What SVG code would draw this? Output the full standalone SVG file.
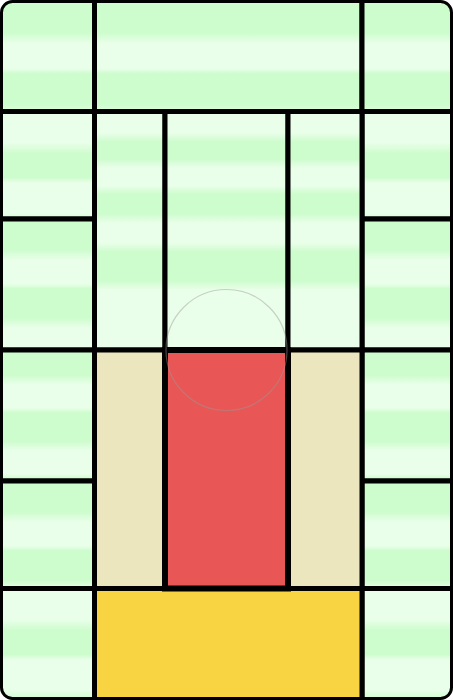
<svg xmlns="http://www.w3.org/2000/svg" width="453" height="700" viewBox="0 0 453 700">
<style>
.cell{stroke:#000;stroke-width:5}
.tan{fill:#ebe6bd}
.red{fill:#e95656;stroke-width:6}
.yel{fill:#f9d442}
</style>
<defs>
<clipPath id="clip"><rect x="1.5" y="1.5" width="450" height="697" rx="11"/></clipPath>
<linearGradient id="gA" gradientUnits="userSpaceOnUse" x1="0" y1="2" x2="0" y2="74" spreadMethod="repeat">
<stop offset="0" stop-color="#cdfccd"/><stop offset="0.42" stop-color="#cdfccd"/><stop offset="0.58" stop-color="#eaffea"/><stop offset="0.92" stop-color="#eaffea"/><stop offset="1" stop-color="#cdfccd"/>
</linearGradient>
<linearGradient id="gB" gradientUnits="userSpaceOnUse" x1="0" y1="113" x2="0" y2="183" spreadMethod="repeat">
<stop offset="0" stop-color="#eaffea"/><stop offset="0.42" stop-color="#eaffea"/><stop offset="0.58" stop-color="#cdfccd"/><stop offset="0.92" stop-color="#cdfccd"/><stop offset="1" stop-color="#eaffea"/>
</linearGradient>
<linearGradient id="gC" gradientUnits="userSpaceOnUse" x1="0" y1="221" x2="0" y2="289" spreadMethod="repeat">
<stop offset="0" stop-color="#cdfccd"/><stop offset="0.42" stop-color="#cdfccd"/><stop offset="0.58" stop-color="#eaffea"/><stop offset="0.92" stop-color="#eaffea"/><stop offset="1" stop-color="#cdfccd"/>
</linearGradient>
<linearGradient id="gD" gradientUnits="userSpaceOnUse" x1="0" y1="347" x2="0" y2="413" spreadMethod="repeat">
<stop offset="0" stop-color="#cdfccd"/><stop offset="0.42" stop-color="#cdfccd"/><stop offset="0.58" stop-color="#eaffea"/><stop offset="0.92" stop-color="#eaffea"/><stop offset="1" stop-color="#cdfccd"/>
</linearGradient>
<linearGradient id="gE" gradientUnits="userSpaceOnUse" x1="0" y1="483" x2="0" y2="551" spreadMethod="repeat">
<stop offset="0" stop-color="#cdfccd"/><stop offset="0.42" stop-color="#cdfccd"/><stop offset="0.58" stop-color="#eaffea"/><stop offset="0.92" stop-color="#eaffea"/><stop offset="1" stop-color="#cdfccd"/>
</linearGradient>
<linearGradient id="gF" gradientUnits="userSpaceOnUse" x1="0" y1="590" x2="0" y2="660" spreadMethod="repeat">
<stop offset="0" stop-color="#eaffea"/><stop offset="0.42" stop-color="#eaffea"/><stop offset="0.58" stop-color="#cdfccd"/><stop offset="0.92" stop-color="#cdfccd"/><stop offset="1" stop-color="#eaffea"/>
</linearGradient>
<linearGradient id="gM" gradientUnits="userSpaceOnUse" x1="0" y1="111" x2="0" y2="350">
<stop offset="0" stop-color="#eaffea"/><stop offset="0.09" stop-color="#eaffea"/><stop offset="0.13" stop-color="#cdfccd"/><stop offset="0.2" stop-color="#cdfccd"/><stop offset="0.24" stop-color="#eaffea"/><stop offset="0.31" stop-color="#eaffea"/><stop offset="0.35" stop-color="#cdfccd"/><stop offset="0.43" stop-color="#cdfccd"/><stop offset="0.47" stop-color="#eaffea"/><stop offset="0.55" stop-color="#eaffea"/><stop offset="0.59" stop-color="#cdfccd"/><stop offset="0.71" stop-color="#cdfccd"/><stop offset="0.75" stop-color="#eaffea"/><stop offset="1" stop-color="#eaffea"/>
</linearGradient>
</defs>
<g clip-path="url(#clip)">
<g id="top"><rect class="cell" x="94.5" y="-5" width="267.5" height="116.5" fill="url(#gA)"/></g>
<g id="left1"><rect class="cell" x="-5" y="-5" width="99.5" height="116.5" fill="url(#gA)"/></g>
<g id="left2"><rect class="cell" x="-5" y="111.5" width="99.5" height="107.5" fill="url(#gB)"/></g>
<g id="left3"><rect class="cell" x="-5" y="219" width="99.5" height="131" fill="url(#gC)"/></g>
<g id="left4"><rect class="cell" x="-5" y="350" width="99.5" height="131" fill="url(#gD)"/></g>
<g id="left5"><rect class="cell" x="-5" y="481" width="99.5" height="107.5" fill="url(#gE)"/></g>
<g id="left6"><rect class="cell" x="-5" y="588.5" width="99.5" height="120" fill="url(#gF)"/></g>
<g id="right1"><rect class="cell" x="362" y="-5" width="100" height="116.5" fill="url(#gA)"/></g>
<g id="right2"><rect class="cell" x="362" y="111.5" width="100" height="107.5" fill="url(#gB)"/></g>
<g id="right3"><rect class="cell" x="362" y="219" width="100" height="131" fill="url(#gC)"/></g>
<g id="right4"><rect class="cell" x="362" y="350" width="100" height="131" fill="url(#gD)"/></g>
<g id="right5"><rect class="cell" x="362" y="481" width="100" height="107.5" fill="url(#gE)"/></g>
<g id="right6"><rect class="cell" x="362" y="588.5" width="100" height="120" fill="url(#gF)"/></g>
<g id="mid-left"><rect class="cell" x="94.5" y="111.5" width="70.5" height="238.5" fill="url(#gM)"/></g>
<g id="mid-center"><rect class="cell" x="165" y="111.5" width="123" height="238.5" fill="url(#gM)"/></g>
<g id="mid-right"><rect class="cell" x="288" y="111.5" width="74" height="238.5" fill="url(#gM)"/></g>
<g id="tan-left"><rect class="cell tan" x="94.5" y="350" width="70.5" height="238.5"/></g>
<g id="tan-right"><rect class="cell tan" x="288" y="350" width="74" height="238.5"/></g>
<g id="bottom"><rect class="cell yel" x="94.5" y="588.5" width="267.5" height="120"/></g>
<g id="key"><rect class="cell red" x="165" y="350" width="123" height="238.5"/></g>
</g>
<g id="connectors">
<circle cx="226.5" cy="350" r="60.5" fill="none" stroke="#999" stroke-opacity="0.45" stroke-width="1.2"/>
</g>
<rect x="1.5" y="1.5" width="450" height="697" rx="11" fill="none" stroke="#000" stroke-width="3"/>
</svg>
